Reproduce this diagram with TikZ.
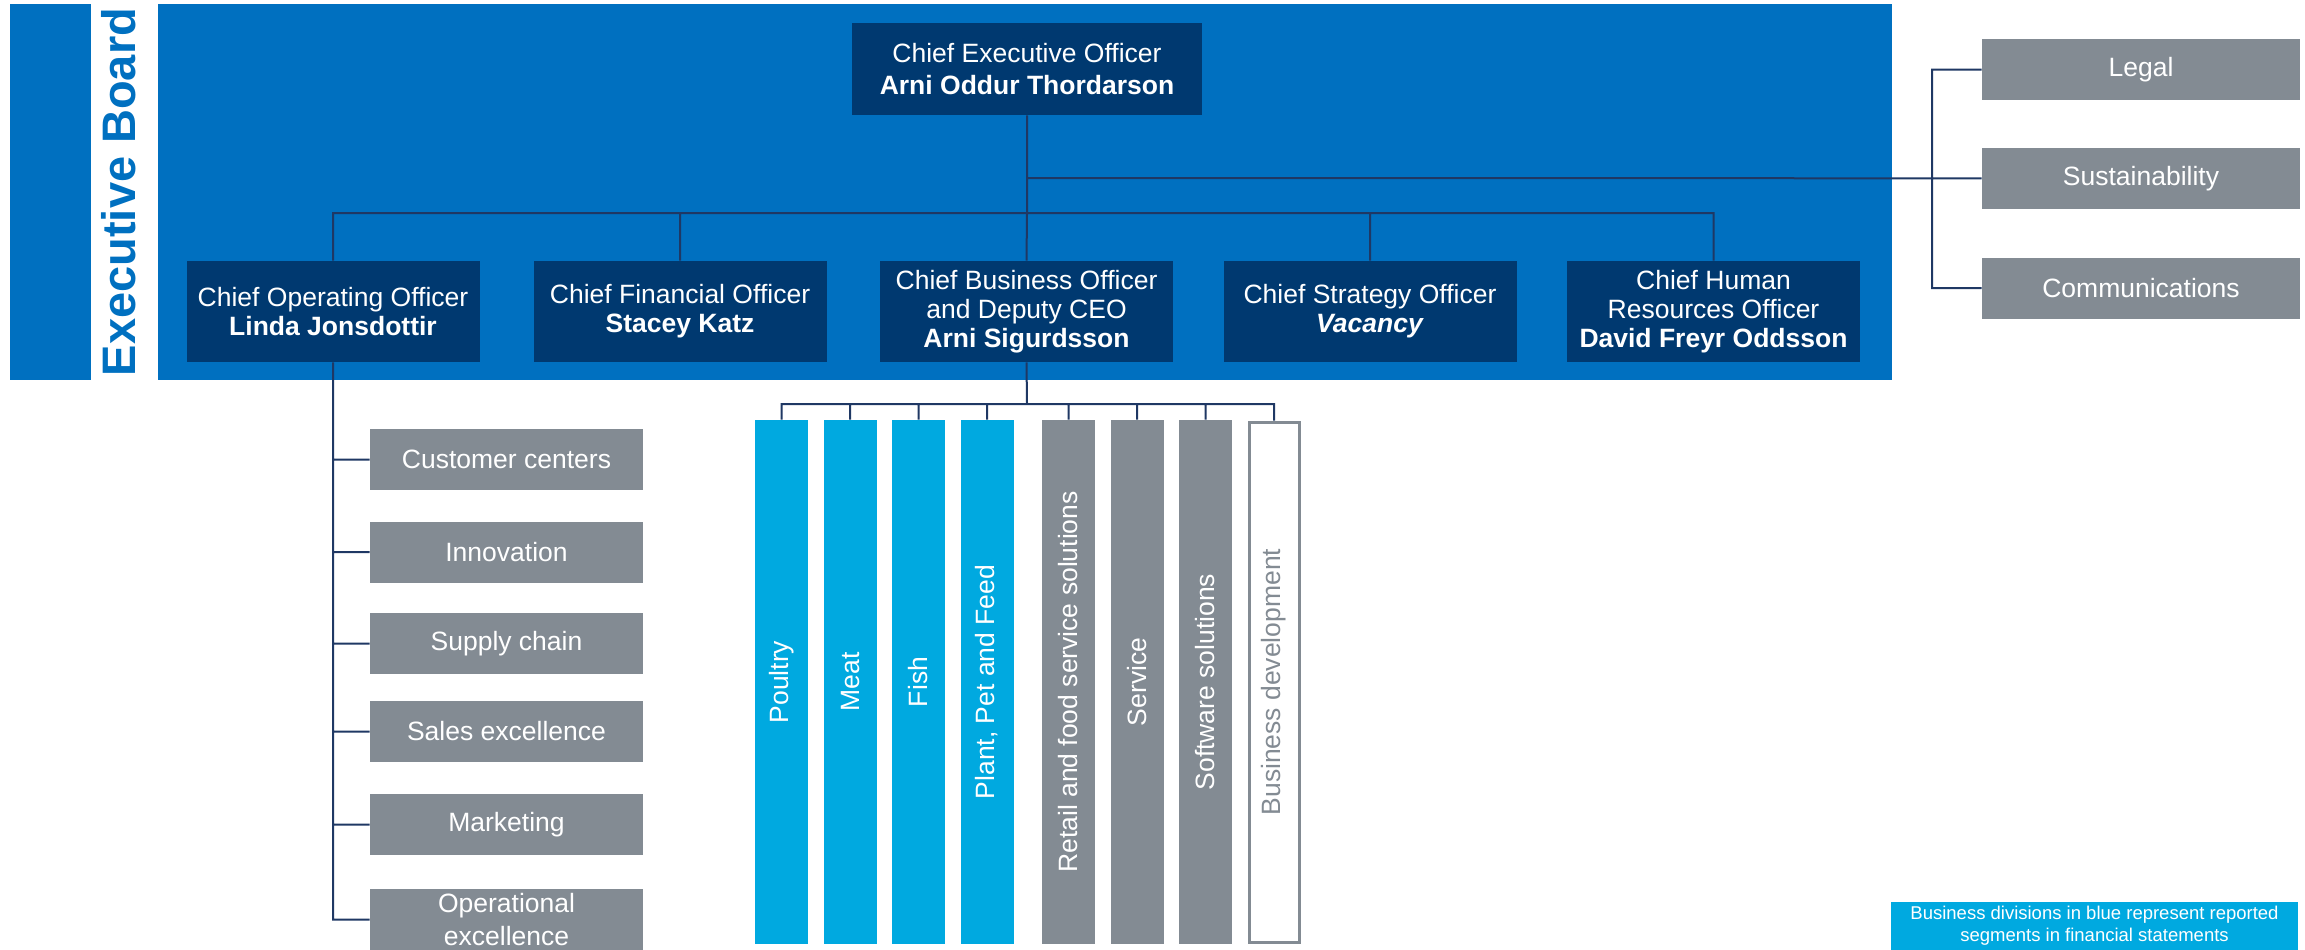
\documentclass[tikz,border=0pt]{standalone}
\usepackage{fontspec}
\setmainfont{Liberation Sans}
\usepackage{tikz}
\usetikzlibrary{positioning}

\definecolor{boardblue}{RGB}{0,112,192}
\definecolor{officerblue}{RGB}{0,57,112}
\definecolor{staffgrey}{RGB}{131,139,147}
\definecolor{segblue}{RGB}{0,169,224}
\definecolor{linkblue}{RGB}{31,56,100}

\tikzset{
  officerbox/.style={fill=officerblue,text=white,align=center,inner sep=0pt,
    minimum width=146.5pt,minimum height=50.5pt,
    font=\fontsize{13.25pt}{14.5pt}\selectfont},
  unitbox/.style={fill=staffgrey,text=white,align=center,inner sep=0pt,
    minimum width=136.5pt,minimum height=30.5pt,
    font=\fontsize{13.25pt}{16.5pt}\selectfont},
  staffbox/.style={unitbox,minimum width=159pt},
  segbox/.style={fill=segblue,text=white,rotate=90,inner sep=0pt,
    minimum width=262pt,minimum height=26.5pt,
    font=\fontsize{13.25pt}{16pt}\selectfont},
  link/.style={draw=linkblue,line width=1pt}
}

\begin{document}
\begin{tikzpicture}[x=0.5pt,y=-0.5pt]

  \useasboundingbox (0,0) rectangle (2305,949);

  \fill [boardblue] (10,4) rectangle (91,380);
  \fill [boardblue] (158,4) rectangle (1892,380);
  \node [rotate=90,text=boardblue,font=\fontsize{23.5pt}{28pt}\selectfont\bfseries]
    (board) at (119,192) {Executive Board};

  \node [officerbox,minimum width=175pt,minimum height=46pt,
    font=\fontsize{13.25pt}{16pt}\selectfont] (ceo) at (1027,69)
    {Chief Executive Officer\\\textbf{Arni Oddur Thordarson}};

  \node [officerbox] (coo)  at (333,311.5)    {Chief Operating Officer\\\textbf{Linda Jonsdottir}};
  \node [officerbox] (cfo)  at (680,311.5)    {Chief Financial Officer\\\textbf{Stacey Katz}};
  \node [officerbox] (cbo)  at (1026.5,311.5) {Chief Business Officer\\and Deputy CEO\\\textbf{Arni Sigurdsson}};
  \node [officerbox] (cso)  at (1370,311.5)   {Chief Strategy Officer\\\textbf{\textit{Vacancy}}};
  \node [officerbox] (chro) at (1713.5,311.5) {Chief Human\\Resources Officer\\\textbf{David Freyr Oddsson}};

  \node [staffbox] (legal) at (2141,69.5) {Legal};
  \node [staffbox,below=23.5pt of legal] (sust) {Sustainability};
  \node [staffbox,below=24pt of sust] (comms) {Communications};

  \node [unitbox] (cust)   at (506.5,459.5) {Customer centers};
  \node [unitbox] (innov)  at (506.5,552)   {Innovation};
  \node [unitbox] (supply) at (506.5,643.5) {Supply chain};
  \node [unitbox] (sales)  at (506.5,731.5) {Sales excellence};
  \node [unitbox] (mkt)    at (506.5,824.5) {Marketing};
  \node [unitbox] (oper)   at (506.5,919.5) {Operational\\excellence};

  \node [segbox] (poultry)  at (781.5,682)  {Poultry};
  \node [segbox] (meat)     at (850,682)    {Meat};
  \node [segbox] (fish)     at (918.5,682)  {Fish};
  \node [segbox] (plant)    at (987,682)    {Plant, Pet and Feed};
  \node [segbox,fill=staffgrey] (retail)   at (1068.5,682) {Retail and food service solutions};
  \node [segbox,fill=staffgrey] (service)  at (1137,682)   {Service};
  \node [segbox,fill=staffgrey] (software) at (1205.5,682) {Software solutions};
  \node [segbox,fill=white,draw=staffgrey,line width=1.5pt,text=staffgrey,
    minimum width=260pt,minimum height=25pt] (bizdev) at (1274,682) {Business development};

  \node [fill=segblue,text=white,align=center,inner sep=0pt,
    minimum width=203.5pt,minimum height=24pt,
    font=\fontsize{9.25pt}{11pt}\selectfont] (note) at (2094.5,926)
    {Business divisions in blue represent reported\\segments in financial statements};

  \coordinate (staffbus)   at (1027,178);
  \coordinate (staffspine) at (1932,178);
  \coordinate (officerbus) at (1027,213);
  \coordinate (segbus)     at (1027,404);

  \path [link]
    (ceo.south)  -- (officerbus)
    (coo.north)  |- (officerbus)
    (cfo.north)  |- (officerbus)
    (cbo.north)  -- (officerbus)
    (cso.north)  |- (officerbus)
    (chro.north) |- (officerbus)
    (staffbus)   -- (sust.west)
    (legal.west) -| (staffspine)
    (comms.west) -| (staffspine)
    (coo.south)  |- (cust.west)
    (coo.south)  |- (innov.west)
    (coo.south)  |- (supply.west)
    (coo.south)  |- (sales.west)
    (coo.south)  |- (mkt.west)
    (coo.south)  |- (oper.west)
    (cbo.south)  -- (segbus)
    (poultry.east)  |- (segbus)
    (meat.east)     |- (segbus)
    (fish.east)     |- (segbus)
    (plant.east)    |- (segbus)
    (retail.east)   |- (segbus)
    (service.east)  |- (segbus)
    (software.east) |- (segbus)
    (bizdev.east)   |- (segbus);

\end{tikzpicture}
\end{document}
